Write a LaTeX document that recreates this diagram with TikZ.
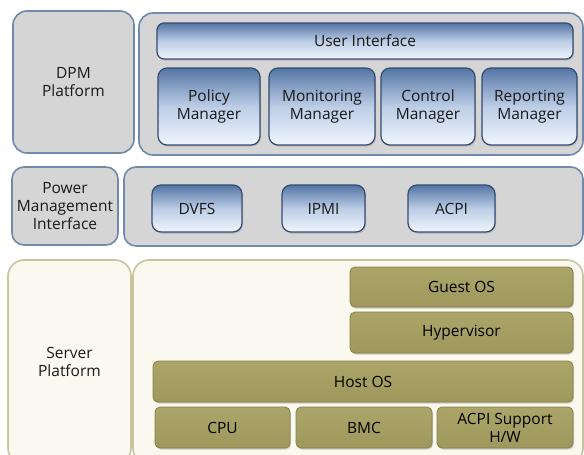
\documentclass[tikz,border=0pt]{standalone}
\usepackage{fontspec}
\setmainfont{Open Sans}
\usetikzlibrary{shadows}
\definecolor{grayfill}{HTML}{D5D5D5}
\definecolor{grayline}{HTML}{6F8AAE}
\definecolor{btnline}{HTML}{344C70}
\definecolor{btntop}{HTML}{5475A4}
\definecolor{btnmid}{HTML}{BCCDE6}
\definecolor{btnbot}{HTML}{F0F5FD}
\definecolor{creamfill}{HTML}{FBF9EF}
\definecolor{creamline}{HTML}{C8C3A0}
\definecolor{olivetop}{HTML}{ABA56A}
\definecolor{olivebot}{HTML}{9E985C}
\definecolor{oliveline}{HTML}{858049}
\tikzset{
  lbl/.style={font=\fontsize{15.5}{18}\selectfont, align=center, text=black!90, inner sep=0pt},
  graybox/.style={lbl, draw=grayline, line width=1.6pt, fill=grayfill, rounded corners=14pt},
  btn/.style={lbl, draw=btnline, line width=1.2pt, rounded corners=9pt,
     top color=btntop, bottom color=btnbot, middle color=btnmid,
     drop shadow={shadow xshift=1pt, shadow yshift=-1.5pt, opacity=0.35}},
  creambox/.style={lbl, draw=creamline, line width=1.6pt, fill=creamfill, rounded corners=16pt},
  olive/.style={lbl, text=black, draw=oliveline, line width=0.8pt, top color=olivetop, bottom color=olivebot, rounded corners=5pt,
     drop shadow={shadow xshift=1pt, shadow yshift=-1.5pt, opacity=0.4}},
}
\begin{document}
\begin{tikzpicture}[x=1pt,y=-1pt]
\useasboundingbox (0,0) rectangle (584,455);
\fill[white] (0,0) rectangle (584,455);
% Row 1
\node[graybox, minimum width=121pt, minimum height=142pt] (dpm) at (73.5,82) {DPM\\Platform};
\node[graybox, minimum width=444pt, minimum height=142pt] (dpmr) at (361,84) {};
\node[btn, rounded corners=7pt, minimum width=416pt, minimum height=36pt] (ui) at (365,41) {User Interface};
\node[btn, minimum width=102pt, minimum height=77pt] (pol) at (209,106.5) {Policy\\Manager};
\node[btn, minimum width=106pt, minimum height=77pt] (mon) at (322,106.5) {Monitoring\\Manager};
\node[btn, minimum width=94pt, minimum height=77pt] (ctl) at (428,106.5) {Control\\Manager};
\node[btn, minimum width=95pt, minimum height=77pt] (rep) at (529.5,106.5) {Reporting\\Manager};
% Row 2
\node[graybox, rounded corners=12pt, minimum width=106pt, minimum height=78pt] (pmi) at (65,206) {Power\\Management\\Interface};
\node[graybox, rounded corners=12pt, minimum width=459pt, minimum height=79pt] (pmir) at (353.5,206.5) {};
\node[btn, minimum width=90pt, minimum height=47pt] (dvfs) at (197,208.5) {DVFS};
\node[btn, minimum width=83pt, minimum height=47pt] (ipmi) at (323.5,208.5) {IPMI};
\node[btn, minimum width=87pt, minimum height=47pt] (acpi) at (451.5,208.5) {ACPI};
% Row 3
\node[creambox, minimum width=123pt, minimum height=204pt] (srv) at (69.5,362) {Server\\Platform};
\node[creambox, minimum width=450pt, minimum height=204pt] (srvr) at (358,362) {};
\node[olive, minimum width=223pt, minimum height=40pt] (guest) at (461.5,287) {Guest OS};
\node[olive, minimum width=223pt, minimum height=41pt] (hyp) at (461.5,332.5) {Hypervisor};
\node[olive, minimum width=420pt, minimum height=41pt] (host) at (363,381.5) {Host OS};
\node[olive, minimum width=135pt, minimum height=41pt] (cpu) at (222.5,427.5) {CPU};
\node[olive, minimum width=136pt, minimum height=41pt] (bmc) at (364,427.5) {BMC};
\node[olive, minimum width=136pt, minimum height=41pt] (acpihw) at (505,427.5) {ACPI Support\\H/W};
\end{tikzpicture}
\end{document}
